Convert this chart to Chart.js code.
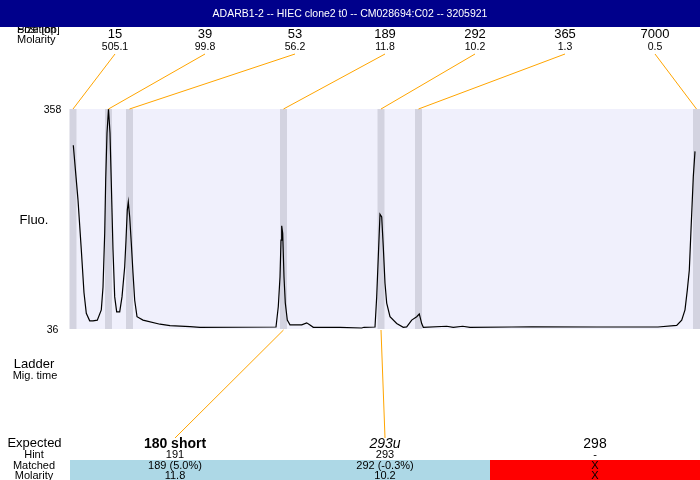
<!DOCTYPE html>
<html>
<head>
<meta charset="utf-8">
<script src="https://cdn.jsdelivr.net/npm/chart.js@4"></script>
<style>
  body { margin: 0; background: #fff; }
  canvas { display: block; }
</style>
</head>
<body>
<canvas id="electroChart" width="700" height="480"></canvas>
<script>
// Electropherogram trace (migration position, fluorescence)
const migTime = [3.3, 8, 11.3, 14, 16.3, 19.7, 23, 27.3, 31.3, 33, 34.7, 35.7, 37, 38.5, 40, 41.3, 43, 44.7, 46.7, 49.7,
  52, 54.7, 56, 57.3, 58.3, 59.7, 61.3, 63, 64.7, 67, 73, 90, 100, 120, 130, 206, 208.3, 210, 211, 211.7,
  212.7, 214, 215.3, 217.3, 220, 231.7, 236.7, 240, 243.3, 270, 291.7, 294, 305, 306.7, 308.3, 310, 311.7, 313.3, 315, 316.7,
  320, 326.7, 333.3, 336.7, 341.7, 346.7, 349.3, 351.7, 353.3, 376.7, 383.3, 392.7, 400, 441.7, 461.7, 526.7, 588, 606.7, 611.7, 615,
  617.3, 619.3, 621, 622.3, 623.3, 625];
const fluo = [305, 225, 152, 89, 59, 48, 48, 49, 64, 97, 176, 254, 323, 358, 323, 250, 152, 83, 61, 61,
  83, 127, 166, 210, 222, 200, 162, 118, 78, 54, 49, 43, 41, 39.4, 38.5, 38.9, 69, 112, 166, 187,
  176, 112, 74, 49, 42, 42, 45, 42, 38.5, 38.5, 37.5, 38.5, 38.9, 83, 142, 204, 200, 156, 103, 74,
  54, 44, 38.5, 39, 49, 54, 58, 44, 38.5, 40, 38.5, 40, 38.5, 38.9, 39, 38.9, 38.9, 41.4, 49, 64,
  93, 122, 181, 225, 259, 296];

// Ladder peaks
const ladderSizes = ["15", "39", "53", "189", "292", "365", "7000"];
const ladderMolarity = ["505.1", "99.8", "56.2", "11.8", "10.2", "1.3", "0.5"];
const ladderPos = [3, 38.5, 59.5, 213.5, 311, 348.5, 626.5];

// Expected fragments
const expectedLabels = ["180 short", "293u", "298"];
const hintValues = ["191", "293", "-"];
const matchedValues = ["189 (5.0%)", "292 (-0.3%)", "X"];
const matchedMolarity = ["11.8", "10.2", "X"];
const matchedPos = [213.5, 311, null];

const yTicks = [36, 358];
const title = "ADARB1-2 -- HIEC clone2 t0 -- CM028694:C02 -- 3205921";

const FONT = "'Liberation Sans', Arial, sans-serif";

function txt(ctx, s, x, y, size, opts = {}) {
  ctx.font = (opts.style || "") + " " + size + "px " + FONT;
  ctx.fillStyle = opts.color || "#000";
  ctx.textAlign = opts.align || "center";
  ctx.textBaseline = "middle";
  ctx.fillText(s, x, y);
}

const decorPlugin = {
  id: "decor",
  beforeDraw(chart) {
    const { ctx, chartArea: a, scales } = chart;
    ctx.save();
    ctx.fillStyle = "#fff";
    ctx.fillRect(0, 0, chart.width, chart.height);
    ctx.fillStyle = "#F0F0FC";
    ctx.fillRect(a.left, a.top, a.right - a.left, a.bottom - a.top);
    // peak bands
    ctx.fillStyle = "#D3D3E0";
    ladderPos.forEach((p) => {
      const x0 = scales.x.getPixelForValue(p - 3.5);
      const x1 = scales.x.getPixelForValue(p + 3.5);
      ctx.fillRect(x0, a.top, x1 - x0, a.bottom - a.top);
    });
    ctx.restore();
  },
  afterDraw(chart) {
    const { ctx, chartArea: a, scales } = chart;
    ctx.save();
    const colW = (a.right - a.left) / ladderSizes.length;

    // top labels
    txt(ctx, "Position", 17, 30, 11, { align: "left" });
    txt(ctx, "Size [bp]", 17, 30, 11, { align: "left" });
    txt(ctx, "Molarity", 17, 40, 11, { align: "left" });

    ctx.strokeStyle = "#FFA500";
    ctx.lineWidth = 1;
    ladderSizes.forEach((s, i) => {
      const cx = a.left + colW * (i + 0.5);
      txt(ctx, s, cx, 34, 13);
      txt(ctx, ladderMolarity[i], cx, 47, 10.5);
      ctx.beginPath();
      ctx.moveTo(cx, 54);
      ctx.lineTo(scales.x.getPixelForValue(ladderPos[i]), a.top);
      ctx.stroke();
    });

    // title bar
    ctx.fillStyle = "#00008B";
    ctx.fillRect(0, 0, chart.width, 27);
    txt(ctx, title, 350, 14, 10.5, { color: "#fff" });

    // y labels
    txt(ctx, String(yTicks[1]), 52.5, scales.y.getPixelForValue(yTicks[1]) + 1, 10.5);
    txt(ctx, String(yTicks[0]), 52.5, scales.y.getPixelForValue(yTicks[0]) + 1, 10.5);
    txt(ctx, "Fluo.", 34, 220, 13);

    txt(ctx, "Ladder", 34, 364, 13);
    txt(ctx, "Mig. time", 35, 376, 11);

    // expected table
    const tw = (a.right - a.left) / expectedLabels.length;
    txt(ctx, "Expected", 34.5, 443, 13);
    txt(ctx, "Hint", 34, 455, 11);
    txt(ctx, "Matched", 34, 466, 11);
    txt(ctx, "Molarity", 34, 476, 11);
    expectedLabels.forEach((lab, i) => {
      const x0 = a.left + tw * i;
      const found = matchedPos[i] !== null;
      ctx.fillStyle = found ? "#ADD8E6" : "#FF0000";
      ctx.fillRect(x0, 460, tw, 20);
    });
    expectedLabels.forEach((lab, i) => {
      const cx = a.left + tw * (i + 0.5);
      const style = i === 0 ? "bold" : i === 1 ? "italic" : "";
      txt(ctx, lab, cx, 444, 14, { style });
      txt(ctx, hintValues[i], cx, 455, 11);
      txt(ctx, matchedValues[i], cx, 466, 11);
      txt(ctx, matchedMolarity[i], cx, 476, 11);
      if (matchedPos[i] !== null) {
        ctx.strokeStyle = "#FFA500";
        ctx.beginPath();
        ctx.moveTo(scales.x.getPixelForValue(matchedPos[i]), a.bottom + 1);
        ctx.lineTo(cx, 438);
        ctx.stroke();
      }
    });
    ctx.restore();
  },
};

const ctx = document.getElementById("electroChart").getContext("2d");
new Chart(ctx, {
  type: "line",
  data: {
    datasets: [
      {
        label: "Fluo.",
        data: migTime.map((t, i) => ({ x: t, y: fluo[i] })),
        borderColor: "#000",
        borderWidth: 1.2,
        pointRadius: 0,
        tension: 0,
        fill: false,
      },
    ],
  },
  options: {
    responsive: false,
    animation: false,
    layout: { padding: { left: 70, right: 0, top: 109, bottom: 151 } },
    plugins: { legend: { display: false }, tooltip: { enabled: false } },
    scales: {
      x: { type: "linear", min: 0, max: 630, display: false },
      y: { min: yTicks[0], max: yTicks[1], display: false },
    },
  },
  plugins: [decorPlugin],
});
</script>
</body>
</html>
